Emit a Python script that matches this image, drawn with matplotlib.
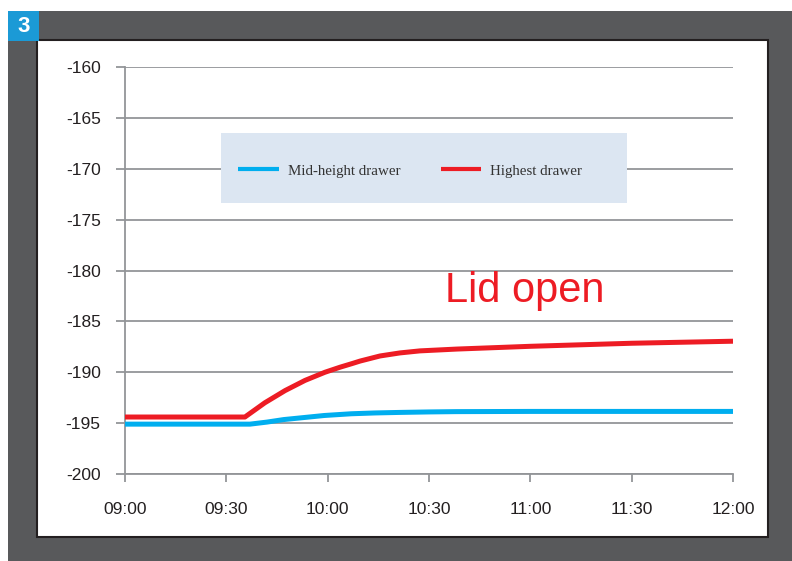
"""
Lid-open temperature curve, panel 3: mid-height vs highest drawer.
"""

import matplotlib

matplotlib.use("Agg")
import matplotlib.pyplot as plt
from matplotlib.patches import Rectangle

# minutes after 09:00
time_ticks = [0, 30, 60, 90, 120, 150, 180]
time_labels = ["09:00", "09:30", "10:00", "10:30", "11:00", "11:30", "12:00"]
temp_ticks = [-200, -195, -190, -185, -180, -175, -170, -165, -160]

mid_t = [0, 37, 42, 47, 53, 59, 67, 74, 81, 90, 98, 120, 150, 180]
mid_temp = [-195.1, -195.1, -194.9, -194.65, -194.45, -194.25, -194.08, -194.0, -193.95,
            -193.9, -193.87, -193.85, -193.85, -193.85]

high_t = [0, 35.5, 41.4, 47.4, 53.3, 59.2, 63.7, 67.2, 69.6, 75.5, 81.4, 87.3, 98.3,
          120, 150, 180]
high_temp = [-194.4, -194.4, -193.0, -191.8, -190.8, -190.0, -189.5, -189.15, -188.9,
             -188.4, -188.1, -187.9, -187.72, -187.45, -187.15, -186.95]

W, H = 792, 561
BLUE = "#00aeef"
RED = "#ed1c24"
GRID = "#939598"
TEXT = "#231f20"


def fx(px):
    return px / W


def fy(py):
    return 1 - py / H


fig = plt.figure(figsize=(W / 100, H / 100), dpi=100, facecolor="white")

# frame: dark border, white panel, numbered badge
fig.patches.append(Rectangle((fx(8), 0), 1 - fx(8), fy(11), transform=fig.transFigure,
                             facecolor="#58595b", edgecolor="none", zorder=0))
fig.patches.append(Rectangle((fx(37), fy(537)), fx(768 - 37), (537 - 40) / H,
                             transform=fig.transFigure, facecolor="white",
                             edgecolor=TEXT, linewidth=1.5, zorder=1))
fig.patches.append(Rectangle((fx(8), fy(41)), fx(31), 30 / H, transform=fig.transFigure,
                             facecolor="#1b9ad6", edgecolor="none", zorder=2))
fig.text(fx(23.5), fy(27), "3", color="white", fontsize=16, fontweight="bold",
         family="Liberation Sans", ha="center", va="center", zorder=3)

ax = fig.add_axes([fx(125), fy(474), fx(733 - 125), (474 - 67) / H])
ax.set_facecolor("none")
ax.set_zorder(5)

ax.plot(mid_t, mid_temp, color=BLUE, linewidth=3.6, solid_capstyle="butt",
        solid_joinstyle="round", label="Mid-height drawer", zorder=4)
ax.plot(high_t, high_temp, color=RED, linewidth=3.6, solid_capstyle="butt",
        solid_joinstyle="round", label="Highest drawer", zorder=4)

ax.set_xlim(0, 180)
ax.set_ylim(-200, -160)
ax.set_xticks(time_ticks)
ax.set_xticklabels(time_labels)
ax.set_yticks(temp_ticks)
ax.set_yticklabels([str(v) for v in temp_ticks])

ax.grid(True, axis="y", color=GRID, linewidth=1.3)
ax.set_axisbelow(True)
for side in ["top", "right"]:
    ax.spines[side].set_visible(False)
for side in ["left", "bottom"]:
    ax.spines[side].set_color(GRID)
    ax.spines[side].set_linewidth(1.3)

ax.tick_params(axis="y", length=6.5, width=1.3, color=GRID, pad=11, labelsize=12.5,
               labelcolor=TEXT)
ax.tick_params(axis="x", length=6, width=1.3, color=GRID, pad=14, labelsize=12.5,
               labelcolor=TEXT)
for lab in ax.get_xticklabels() + ax.get_yticklabels():
    lab.set_family("Liberation Sans")

# legend panel
ax.add_patch(Rectangle((0.158, 0.666), 0.668, 0.172, transform=ax.transAxes,
                       facecolor="#dce6f2", edgecolor="none", zorder=3))
leg = ax.legend(loc="center", bbox_to_anchor=(0.469, 0.745), ncol=2, frameon=False,
                borderpad=0, handlelength=2.7, handletextpad=0.6, columnspacing=2.7,
                prop={"family": "Liberation Serif", "size": 10.8})
for line in leg.get_lines():
    line.set_linewidth(3)
for txt in leg.get_texts():
    txt.set_color("#333333")
leg.set_zorder(6)

ax.text(94.8, -183.1, "Lid open", color=RED, fontsize=30, family="Liberation Sans",
        ha="left", va="baseline", zorder=6)

fig.savefig("out.png", dpi=100)
